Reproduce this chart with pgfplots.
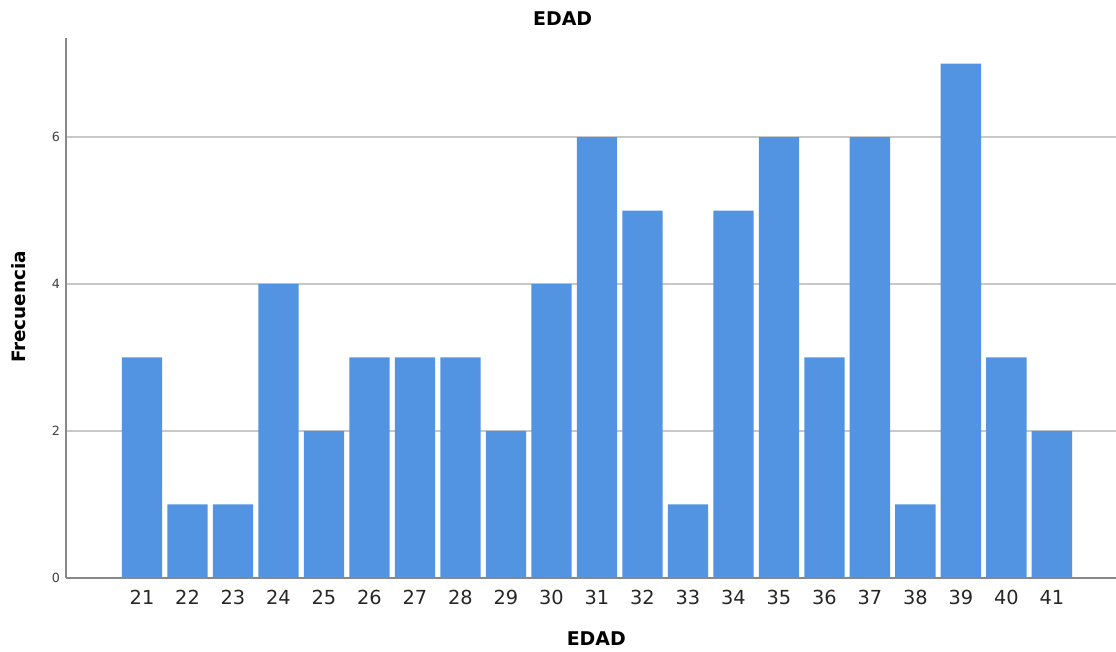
\documentclass[border=0pt]{standalone}
\usepackage{pgfplots}
\pgfplotsset{compat=1.18}
\usepackage{fontspec}
\setmainfont{DejaVu Sans}
\definecolor{barblue}{RGB}{82,148,226}
\definecolor{axgray}{RGB}{136,136,136}
\definecolor{gridgray}{RGB}{200,200,200}
\begin{document}
\begin{tikzpicture}
\begin{axis}[
  at={(0,0)}, anchor=south west,
  scale only axis,
  width=787.5pt, height=405pt,
  xmin=19.329, xmax=42.41,
  ymin=0, ymax=7.347,
  axis x line=bottom, axis y line=left,
  axis line style={axgray, line width=1.5pt, -},
  xtick={21,...,41},
  ytick={0,2,4,6},
  major tick length=0pt,
  ymajorgrids,
  grid style={gridgray, line width=1.2pt},
  xticklabel style={font=\fontsize{14.5}{16}\selectfont, text=black!85, yshift=-6pt, text height=10.5pt, text depth=0pt},
  yticklabel style={font=\fontsize{9.5}{11}\selectfont, text=black!75, xshift=-1pt},
  /pgf/number format/assume math mode=true,
  title={EDAD},
  title style={font=\fontsize{14.2}{16}\selectfont\bfseries, at={(axis description cs:0.473,1.0204)}, anchor=center},
  xlabel={EDAD},
  xlabel style={font=\fontsize{14.2}{16}\selectfont\bfseries, at={(axis description cs:0.505,-0.113)}, anchor=center},
  ylabel={Frecuencia},
  ylabel style={font=\fontsize{13.8}{15}\selectfont\bfseries, at={(axis description cs:-0.0448,0.502)}, anchor=center, rotate=0},
  clip=false,
]
\addplot[ybar, bar width=0.886, fill=barblue, draw=none] coordinates {
(21,3) (22,1) (23,1) (24,4) (25,2) (26,3) (27,3) (28,3) (29,2) (30,4)
(31,6) (32,5) (33,1) (34,5) (35,6) (36,3) (37,6) (38,1) (39,7) (40,3) (41,2)
};
\end{axis}
\pgfresetboundingbox
\path (-49.5pt,-55.5pt) rectangle (787.5pt,433.5pt);
\end{tikzpicture}
\end{document}
